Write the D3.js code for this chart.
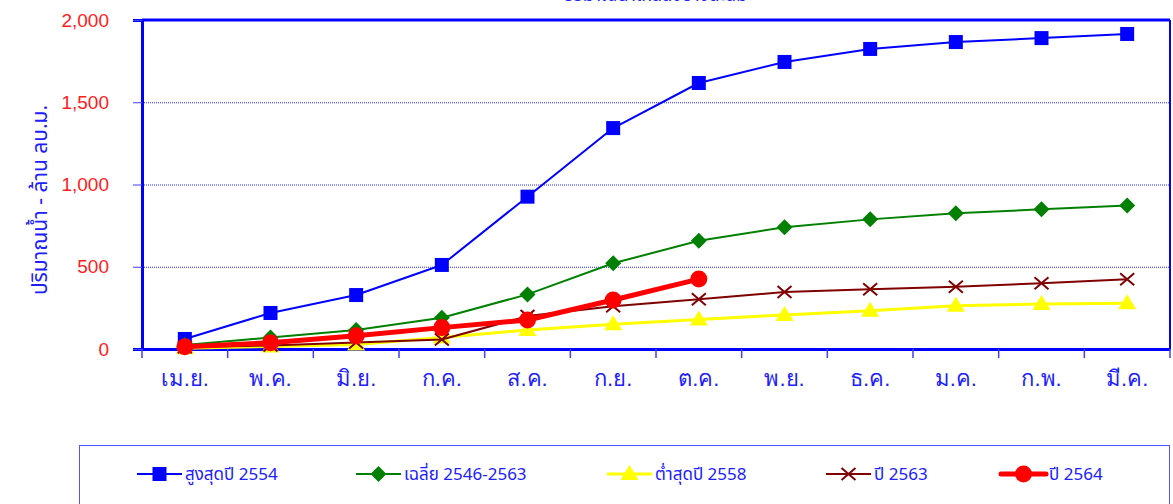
<!DOCTYPE html>
<html lang="th">
<head>
    <meta charset="UTF-8">
    <title>ปริมาณน้ำสะสม</title>
    <script src="https://cdn.jsdelivr.net/npm/d3@7"></script>
    <style>
        body { margin: 0; background: #fff; }
        svg { display: block; font-family: Tahoma, "Noto Sans Thai", "Noto Sans", sans-serif; }
        .grid line { stroke: #2a2aff; stroke-width: 1; stroke-dasharray: 1,1; }
        .yaxis text { fill: #ff2020; font-size: 19px; }
        .xaxis text { fill: #2020ff; font-size: 22px; }
        .legend text { fill: #2020ff; font-size: 17px; }
    </style>
</head>
<body>
<script>
    // ข้อมูล
    const months = ['เม.ย.', 'พ.ค.', 'มิ.ย.', 'ก.ค.', 'ส.ค.', 'ก.ย.', 'ต.ค.', 'พ.ย.', 'ธ.ค.', 'ม.ค.', 'ก.พ.', 'มี.ค.'];
    const yTicks = [0, 500, 1000, 1500, 2000];
    const seriesNames = ['สูงสุดปี 2554', 'เฉลี่ย 2546-2563', 'ต่ำสุดปี 2558', 'ปี 2563', 'ปี 2564'];
    const max2554 = [61, 219, 328, 511, 926, 1343, 1617, 1745, 1824, 1866, 1890, 1915];
    const avg2546_2563 = [25, 70, 115, 190, 332, 521, 658, 740, 788, 825, 849, 873];
    const min2558 = [5, 15, 28, 70, 115, 150, 180, 207, 233, 263, 274, 278];
    const y2563 = [10, 22, 40, 58, 200, 260, 302, 346, 363, 379, 399, 424];
    const y2564 = [14, 38, 80, 130, 176, 298, 425];

    const width = 1173, height = 504;
    const plot = {left: 142, right: 1170, top: 20, bottom: 349};

    const svg = d3.select('body').append('svg')
        .attr('width', width)
        .attr('height', height);

    const x = d3.scaleBand()
        .domain(months)
        .range([plot.left, plot.right]);
    const y = d3.scaleLinear()
        .domain([0, 2000])
        .range([plot.bottom, plot.top]);

    // ชื่อกราฟ (ถูกตัดด้านบนเหมือนต้นฉบับ)
    svg.append('text')
        .attr('x', 655).attr('y', 1)
        .attr('text-anchor', 'middle')
        .attr('fill', '#2020ff')
        .style('font-size', '18px')
        .text('ปริมาณน้ำไหลลงอ่างสะสม');

    // เส้นกริด
    svg.append('g').attr('class', 'grid')
        .selectAll('line')
        .data(yTicks.filter(d => d > 0 && d < 2000))
        .enter().append('line')
        .attr('x1', plot.left).attr('x2', plot.right)
        .attr('y1', d => y(d) + 0.5).attr('y2', d => y(d) + 0.5);

    // กรอบ
    svg.append('line').attr('x1', plot.left).attr('x2', plot.right)
        .attr('y1', plot.top).attr('y2', plot.top)
        .attr('stroke', '#0000ff').attr('stroke-width', 3);
    svg.append('line').attr('x1', plot.right).attr('x2', plot.right)
        .attr('y1', plot.top).attr('y2', plot.bottom)
        .attr('stroke', '#0000ff').attr('stroke-width', 2);

    // แกน y
    const yAxis = d3.axisLeft(y).tickValues(yTicks).tickSize(9).tickPadding(24)
        .tickFormat(d3.format(','));
    const gy = svg.append('g').attr('class', 'yaxis')
        .attr('transform', 'translate(' + plot.left + ',0)')
        .call(yAxis);
    gy.select('.domain').attr('stroke', '#0000ff').attr('stroke-width', 3);
    gy.selectAll('.tick line').attr('stroke', '#4040ff');

    // แกน x
    const xAxis = d3.axisBottom(x).tickSize(0).tickPadding(25);
    const gx = svg.append('g').attr('class', 'xaxis')
        .attr('transform', 'translate(0,' + plot.bottom + ')')
        .call(xAxis);
    gx.select('.domain').attr('stroke', '#0000ff').attr('stroke-width', 3);
    gx.selectAll('.tick text').attr('dy', '0.55em');
    gx.selectAll('.sep')
        .data(months.map((m, i) => plot.left + i * x.step()).concat([plot.right]))
        .enter().append('line')
        .attr('x1', d => d).attr('x2', d => d)
        .attr('y1', 0).attr('y2', 9)
        .attr('stroke', '#4040ff').attr('stroke-width', 1.5);

    // ชื่อแกน y
    svg.append('text')
        .attr('transform', 'translate(40,200) rotate(-90)')
        .attr('text-anchor', 'middle')
        .attr('dy', '0.35em')
        .attr('fill', '#2020ff')
        .style('font-size', '21px')
        .text('ปริมาณน้ำ - ล้าน ลบ.ม.');

    const cx = i => x(months[i]) + x.bandwidth() / 2;

    // รูปแบบสัญลักษณ์
    function drawMarker(g, kind, px, py) {
        if (kind === 'square') {
            g.append('rect').attr('x', px - 7).attr('y', py - 7).attr('width', 14).attr('height', 14)
                .attr('fill', '#0000ff');
        } else if (kind === 'diamond') {
            g.append('path').attr('d', 'M' + px + ',' + (py - 8) + 'L' + (px + 8) + ',' + py + 'L' + px + ',' + (py + 8) + 'L' + (px - 8) + ',' + py + 'Z')
                .attr('fill', '#008000');
        } else if (kind === 'triangle') {
            g.append('path').attr('d', 'M' + px + ',' + (py - 9) + 'L' + (px + 9) + ',' + (py + 6) + 'L' + (px - 9) + ',' + (py + 6) + 'Z')
                .attr('fill', '#ffff00');
        } else if (kind === 'cross') {
            g.append('path').attr('d', 'M' + (px - 7) + ',' + (py - 6) + 'L' + (px + 7) + ',' + (py + 6) + 'M' + (px + 7) + ',' + (py - 6) + 'L' + (px - 7) + ',' + (py + 6))
                .attr('stroke', '#800000').attr('stroke-width', 2).attr('fill', 'none');
        } else if (kind === 'circle') {
            g.append('circle').attr('cx', px).attr('cy', py).attr('r', 8.5).attr('fill', '#ff0000');
        }
    }

    const series = [
        {name: seriesNames[0], values: max2554, color: '#0000ff', width: 2, marker: 'square'},
        {name: seriesNames[1], values: avg2546_2563, color: '#008000', width: 2, marker: 'diamond'},
        {name: seriesNames[2], values: min2558, color: '#ffff00', width: 3, marker: 'triangle'},
        {name: seriesNames[3], values: y2563, color: '#800000', width: 2, marker: 'cross'},
        {name: seriesNames[4], values: y2564, color: '#ff0000', width: 5, marker: 'circle'}
    ];

    const line = d3.line()
        .x((d, i) => cx(i))
        .y(d => y(d));

    series.forEach(s => {
        const g = svg.append('g');
        g.append('path')
            .attr('d', line(s.values))
            .attr('fill', 'none')
            .attr('stroke', s.color)
            .attr('stroke-width', s.width)
            .attr('stroke-linejoin', 'round');
        s.values.forEach((v, i) => drawMarker(g, s.marker, cx(i), y(v)));
    });

    // คำอธิบาย
    const legend = svg.append('g').attr('class', 'legend');
    legend.append('rect')
        .attr('x', 79.5).attr('y', 445.5)
        .attr('width', 1090).attr('height', 70)
        .attr('fill', 'none').attr('stroke', '#5555ff').attr('stroke-width', 1);
    const legendX = [137, 356, 607, 826, 1001];
    series.forEach((s, i) => {
        const g = legend.append('g');
        const lx = legendX[i], ly = 474;
        g.append('line').attr('x1', lx).attr('x2', lx + 45)
            .attr('y1', ly).attr('y2', ly)
            .attr('stroke', s.color).attr('stroke-width', s.width)
            .attr('stroke-linecap', s.marker === 'circle' ? 'round' : 'butt');
        drawMarker(g, s.marker, lx + 22.5, ly);
        g.append('text').attr('x', lx + 48).attr('y', ly).attr('dy', '0.35em').text(s.name);
    });
</script>
</body>
</html>
